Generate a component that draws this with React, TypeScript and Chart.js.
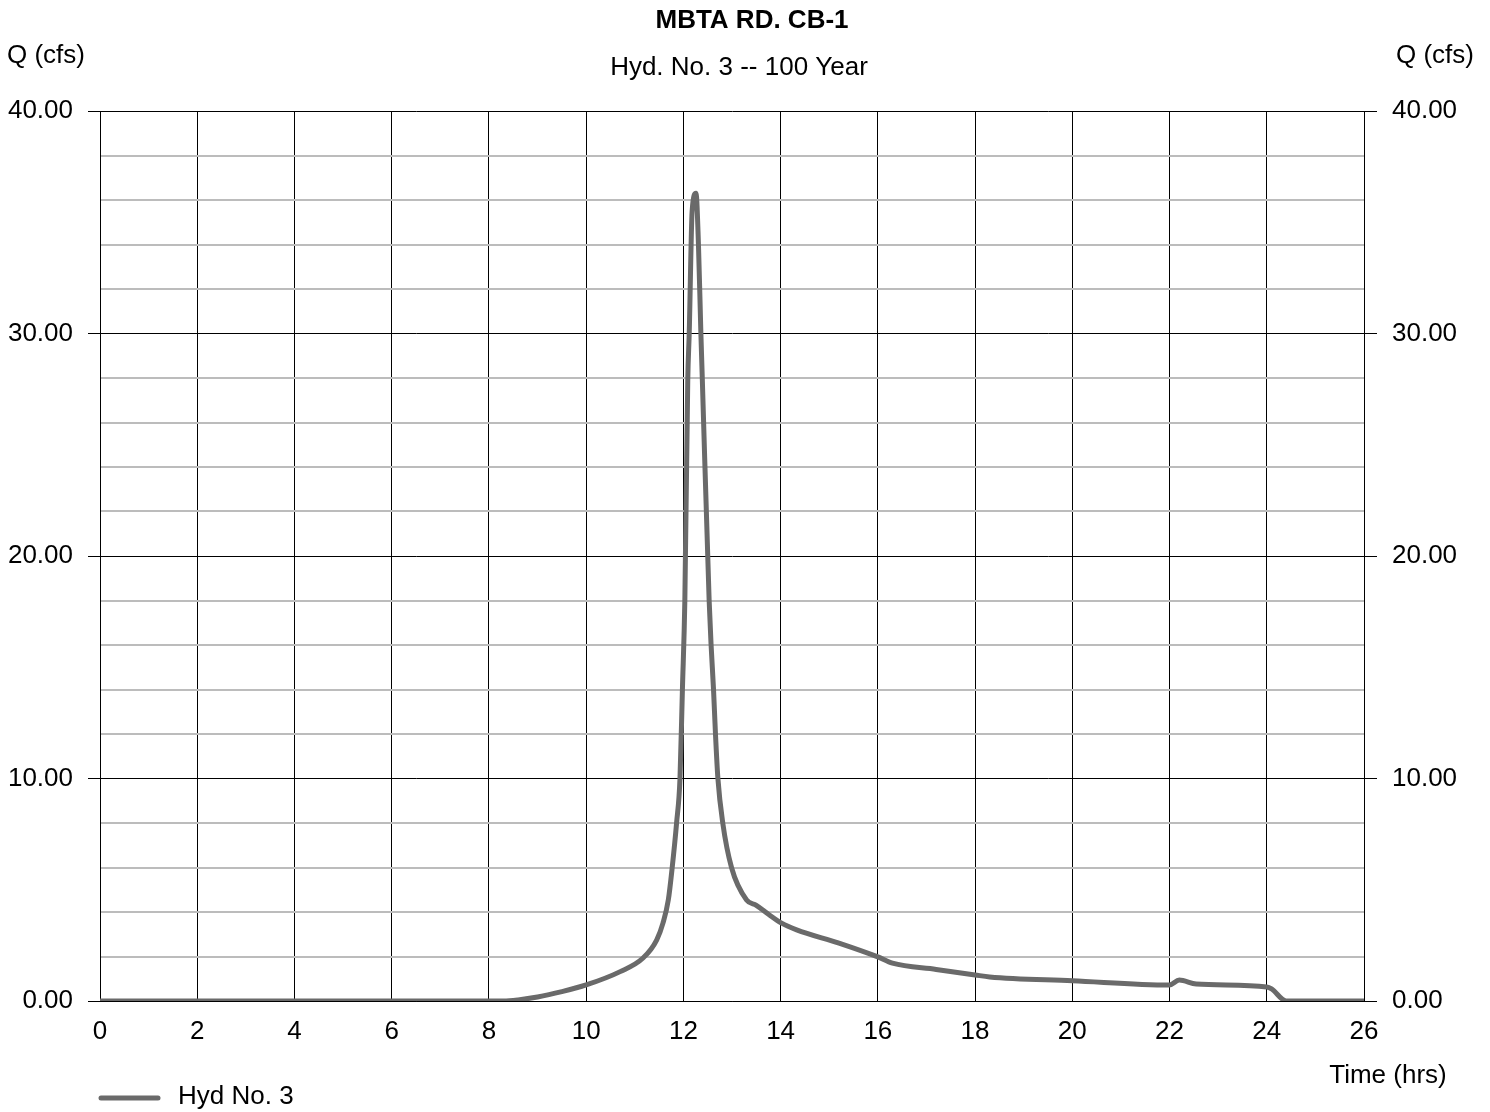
import React, { useEffect, useRef } from "react";
import { Chart, registerables } from "chart.js";

Chart.register(...registerables);

const TITLE = "MBTA RD. CB-1";
const SUBTITLE = "Hyd. No. 3 -- 100 Year";
const Y_TITLE = "Q (cfs)";
const X_TITLE = "Time (hrs)";
const SERIES_LABEL = "Hyd No. 3";

const times = [
  0, 8.3, 8.6, 9.0, 9.5, 10.0, 10.7, 11.17, 11.45, 11.58, 11.69, 11.77, 11.86, 11.93, 11.98,
  12.03, 12.09, 12.12, 12.18, 12.26, 12.31, 12.36, 12.39, 12.53, 12.57, 12.62, 12.66, 12.71,
  12.81, 12.99, 13.3, 13.5, 13.75, 14.02, 14.33, 15.2, 16.0, 16.3, 17.2, 18.0, 18.3, 20.0,
  22.0, 22.2, 22.55, 24.0, 24.1, 24.4, 26.0,
];
const flows = [
  0, 0, 0.05, 0.18, 0.42, 0.72, 1.32, 1.93, 2.74, 3.5, 4.54, 6.0, 8.0, 10.0, 14.0,
  18.0, 27.9, 30.0, 35.5, 36.3, 34.0, 30.0, 27.9, 18.0, 16.0, 14.0, 12.0, 10.0,
  8.0, 6.0, 4.54, 4.3, 3.9, 3.5, 3.2, 2.6, 1.98, 1.7, 1.42, 1.17, 1.08, 0.91,
  0.72, 0.94, 0.76, 0.63, 0.54, 0, 0,
];

const X_MIN = 0;
const X_MAX = 26;
const X_STEP = 2;
const Y_MIN = 0;
const Y_MAX = 40;
const Y_STEP = 2;
const Y_MAJOR = 10;

export default function App() {
  const ref = useRef<HTMLCanvasElement>(null);

  useEffect(() => {
    if (!ref.current) return;
    const FONT = "'Liberation Sans', Arial, Helvetica, sans-serif";
    const LINE_COLOR = "#6a6a6a";
    const isMajor = (v: number) => Math.abs(v % Y_MAJOR) < 1e-9;

    const textPlugin = {
      id: "texts",
      afterDraw(chart: any) {
        const ctx = chart.ctx as CanvasRenderingContext2D;
        const W = chart.width;
        ctx.save();
        ctx.fillStyle = "#000";
        ctx.textBaseline = "middle";
        ctx.textAlign = "center";
        ctx.font = `bold 26px ${FONT}`;
        ctx.fillText(TITLE, 752, 21);
        ctx.font = `26px ${FONT}`;
        ctx.fillText(SUBTITLE, 739, 68);
        ctx.textAlign = "left";
        ctx.fillText(Y_TITLE, 7, 56);
        ctx.textAlign = "right";
        ctx.fillText(Y_TITLE, 1474, 56);
        ctx.textAlign = "center";
        ctx.fillText(X_TITLE, 1388, 1076);
        // legend
        const ds = chart.data.datasets[0];
        ctx.strokeStyle = ds.borderColor;
        ctx.lineWidth = 5;
        ctx.lineCap = "round";
        ctx.beginPath();
        ctx.moveTo(101, 1098);
        ctx.lineTo(158, 1098);
        ctx.stroke();
        ctx.textAlign = "left";
        ctx.font = `26px ${FONT}`;
        ctx.fillText(ds.label, 178, 1097);
        ctx.restore();
      },
    };

    const tickFont = { family: FONT, size: 26 };

    const chart = new Chart(ref.current, {
      type: "line",
      data: {
        datasets: [
          {
            label: SERIES_LABEL,
            data: times.map((t, i) => ({ x: t, y: flows[i] })),
            borderColor: LINE_COLOR,
            borderWidth: 5,
            pointRadius: 0,
            fill: false,
            cubicInterpolationMode: "monotone",
            xAxisID: "x",
            yAxisID: "y",
          },
        ],
      },
      options: {
        responsive: false,
        animation: false,
        layout: { padding: { top: 111, left: 0, right: 0, bottom: 0 } },
        plugins: {
          legend: { display: false },
          tooltip: { enabled: false },
          title: { display: false },
        },
        scales: {
          x: {
            type: "linear",
            min: X_MIN,
            max: X_MAX,
            ticks: {
              stepSize: X_STEP,
              autoSkip: false,
              maxRotation: 0,
              padding: 15,
              color: "#000",
              font: tickFont,
              callback: (v: any) => String(v),
            },
            grid: { color: "#000", lineWidth: 1, drawTicks: false },
            border: { color: "#000", width: 1 },
            afterFit: (s: any) => {
              s.height = 111;
            },
          },
          y: {
            type: "linear",
            position: "left",
            min: Y_MIN,
            max: Y_MAX,
            ticks: {
              stepSize: Y_STEP,
              autoSkip: false,
              padding: 15,
              color: "#000",
              font: tickFont,
              callback: (v: any) => (isMajor(Number(v)) ? Number(v).toFixed(2) : ""),
            },
            grid: {
              color: (c: any) => (isMajor(c.tick.value) ? "#000" : "#bcbcbc"),
              lineWidth: (c: any) => (isMajor(c.tick.value) ? 1 : 2),
              tickLength: 12,
              tickColor: (c: any) => (isMajor(c.tick.value) ? "#000" : "rgba(0,0,0,0)"),
            },
            border: { color: "#000", width: 1 },
            afterFit: (s: any) => {
              s.width = 100;
            },
          },
          y2: {
            type: "linear",
            position: "right",
            min: Y_MIN,
            max: Y_MAX,
            ticks: {
              stepSize: Y_STEP,
              autoSkip: false,
              padding: 15,
              color: "#000",
              font: tickFont,
              callback: (v: any) => (isMajor(Number(v)) ? Number(v).toFixed(2) : ""),
            },
            grid: {
              drawOnChartArea: false,
              tickLength: 13,
              tickColor: (c: any) => (isMajor(c.tick.value) ? "#000" : "rgba(0,0,0,0)"),
            },
            border: { color: "#000", width: 1 },
            afterFit: (s: any) => {
              s.width = 126;
            },
          },
        },
      },
      plugins: [textPlugin],
    } as any);

    return () => chart.destroy();
  }, []);

  return (
    <div style={{ position: "absolute", left: 0, top: 0, width: 1490, height: 1112, background: "#fff" }}>
      <canvas ref={ref} width={1490} height={1112} style={{ display: "block" }} />
    </div>
  );
}
